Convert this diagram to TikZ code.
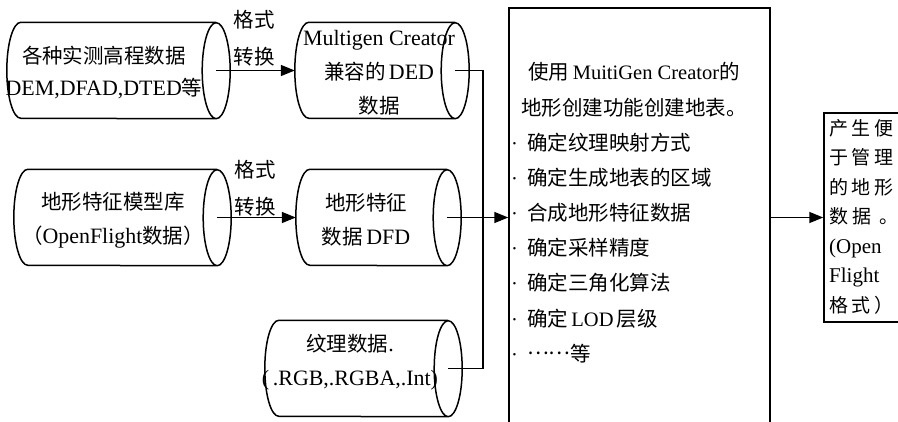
\documentclass[tikz,border=0pt]{standalone}
\usepackage{fontspec}
\setmainfont{Noto Sans CJK SC}
\newfontfamily\latinfont{Liberation Serif}
\newfontfamily\latinwide[Scale=1.07]{Liberation Serif}
\newfontfamily\cjkwide[LetterSpace=18]{Noto Sans CJK SC}
\newcommand\lat[1]{{\latinfont #1}}
\newcommand\latw[1]{{\latinwide #1}}
\usetikzlibrary{arrows.meta}

\tikzset{
  tank/.style={minimum height=96pt, inner sep=0pt},
  tankline/.style={line width=1.5pt},
  tanktext/.style={align=center, inner sep=0pt, font=\fontsize{20.5}{34}\selectfont},
  flow/.style={line width=1.5pt, -{Triangle[length=14pt,width=11pt]}},
  wire/.style={line width=1.5pt},
  note/.style={align=center, inner sep=0pt, font=\fontsize{20.5}{37}\selectfont},
  item/.style={anchor=base west, inner sep=0pt, font=\fontsize{20.5}{35}\selectfont},
}

\begin{document}
\begin{tikzpicture}[x=1pt, y=-1pt]
  \useasboundingbox (0,0) rectangle (898,421);
  \clip (0,0) rectangle (898,421);

  % data sources
  \node[tank, minimum width=195pt] (dem) at (104.5,70.5) {};
  \node[tank, minimum width=146pt] (ded) at (368,70.5) {};
  \node[tank, minimum width=189pt] (flt) at (108.5,217.5) {};
  \node[tank, minimum width=137pt] (dfd) at (364.5,217.5) {};
  \node[tank, minimum width=169pt] (tex) at (349.5,368.5) {};

  \foreach \n in {dem,ded,flt,dfd,tex}{
    \draw[tankline] ([xshift=14pt]\n.north east) -- ([xshift=14pt]\n.north west)
      arc[start angle=90, end angle=270, x radius=14pt, y radius=48pt]
      -- ([xshift=14pt]\n.south east)
      arc[start angle=-90, end angle=90, x radius=14pt, y radius=48pt]
      arc[start angle=90, end angle=270, x radius=14pt, y radius=48pt];
  }

  \node[tanktext, font=\fontsize{20.5}{32}\selectfont] (demtxt) at (104,72.5)
    {各种实测高程数据\\\latw{DEM,DFAD,DTED}等};
  \node[tanktext] (dedtxt) at (379,72.5) {\latw{Multigen Creator}\\兼容的\,\latw{DED}\\数据};
  \node[tanktext] (flttxt) at (113,220) {地形特征模型库\\（\latw{OpenFlight}数据）};
  \node[tanktext] (dfdtxt) at (366,220) {地形特征\\数据\,\latw{DFD}};
  \node[tanktext] (textxt) at (350,362.5) {纹理数据\latw{.}\\\latw{(\,.RGB,.RGBA,.Int)}};

  % format conversion
  \draw[flow] ([xshift=14pt]dem.east) -- (ded.west);
  \draw[flow] ([xshift=14pt]flt.east) -- (dfd.west);
  \node[note] (conv1) at (254,38.5) {格式\\转换};
  \node[note] (conv2) at (255,188.5) {格式\\转换};

  % terrain creation
  \node[draw, line width=1.5pt, minimum width=261pt, minimum height=432pt, inner sep=0pt] (mid) at (639.5,224) {};
  \node[note, font=\fontsize{20.5}{36}\selectfont] (head) at (634,90)
    {使用\,\lat{MuitiGen Creator}的\\地形创建功能创建地表。};
  \foreach \t [count=\i from 0] in {确定纹理映射方式, 确定生成地表的区域, 合成地形特征数据,
      确定采样精度, 确定三角化算法, 确定\,\lat{LOD}\,层级, \raisebox{7pt}{……}等}
    \node[item] (task\i) at (511,150+35.2*\i) {\lat{·}\hspace{9pt}\t};

  \coordinate (bus) at (483,0);
  \draw[wire] ([xshift=14pt]ded.east) -| (bus |- tex.east) -- ([xshift=14pt]tex.east);
  \draw[flow] ([xshift=14pt]dfd.east) -- (dfd.east -| mid.west);

  % result
  \node[draw, line width=1.5pt, minimum width=136pt, minimum height=209pt, inner sep=0pt] (out) at (892,217.5) {};
  \node[anchor=north west, inner sep=0pt, align=left, font=\cjkwide\fontsize{19}{29.5}\selectfont] (outtxt)
    at (829,119) {产生便\\于管理\\的地形\\数\hspace{4pt}据\hspace{8pt}。\\
      {\latinfont\fontsize{21}{29.5}\selectfont (Open}\\{\latinfont\fontsize{21}{29.5}\selectfont Flight}\\格式）};
  \draw[flow] (mid.east |- out.west) -- (out.west);
\end{tikzpicture}
\end{document}
